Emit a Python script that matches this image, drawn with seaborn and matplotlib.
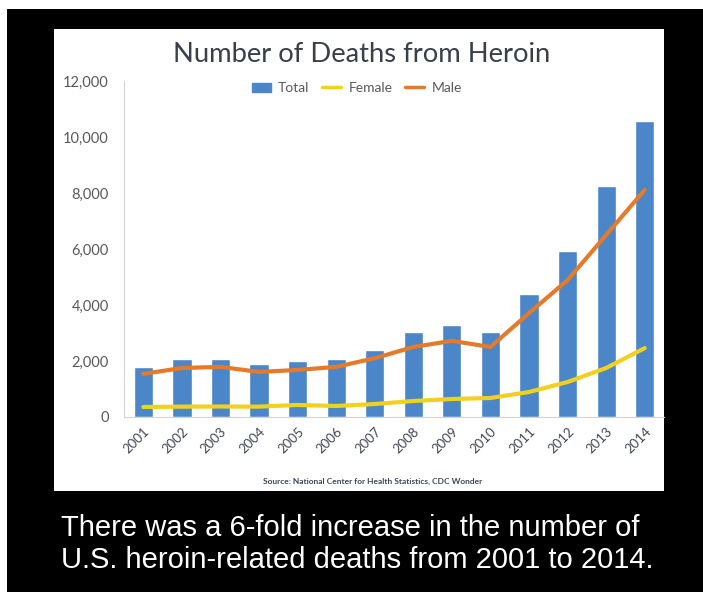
import numpy as np
import matplotlib
matplotlib.use("Agg")
import matplotlib.pyplot as plt
import matplotlib.patches as mpatches
from matplotlib.lines import Line2D
import pandas as pd
import seaborn as sns

# data
years = ["2001", "2002", "2003", "2004", "2005", "2006", "2007",
         "2008", "2009", "2010", "2011", "2012", "2013", "2014"]
total = [1779, 2089, 2080, 1878, 2009, 2088, 2399,
         3041, 3278, 3036, 4397, 5925, 8257, 10574]
female = [357, 370, 375, 370, 430, 393, 464,
          571, 643, 679, 893, 1250, 1750, 2460]
male = [1540, 1750, 1790, 1610, 1680, 1790, 2100,
        2500, 2720, 2500, 3710, 4890, 6500, 8110]
ytick_vals = [0, 2000, 4000, 6000, 8000, 10000, 12000]
ytick_labels = ["0", "2,000", "4,000", "6,000", "8,000", "10,000", "12,000"]

title = "Number of Deaths from Heroin"
source = "Source: National Center for Health Statistics, CDC Wonder"
caption = ["There was a 6-fold increase in the number of",
           "U.S. heroin-related deaths from 2001 to 2014."]

c_blue = "#4A86C8"
c_yellow = "#F2D01E"
c_orange = "#E47A2A"
c_text = "#595959"
c_title = "#3A3F4A"

df = pd.DataFrame({"year": years, "total": total,
                   "female": female, "male": male})
df["pos"] = np.arange(len(df))

sns.set_style("white")
plt.rcParams["font.family"] = ["Lato", "DejaVu Sans"]

W, H = 703, 592
fig = plt.figure(figsize=(W / 100, H / 100), dpi=100, facecolor="white")

# black slide background and white chart panel, kept behind the axes
fig.patches.append(mpatches.Rectangle((7 / W, 0), 1, (H - 9) / H,
                   transform=fig.transFigure, facecolor="black",
                   edgecolor="none", zorder=-2))
fig.patches.append(mpatches.Rectangle((54 / W, (H - 491) / H), 610 / W, 462 / H,
                   transform=fig.transFigure, facecolor="white",
                   edgecolor="none", zorder=-1))

ax = fig.add_axes([124 / W, (H - 417) / H, 540 / W, 336 / H])
ax.patch.set_alpha(0)

sns.barplot(data=df, x="year", y="total", color=c_blue, width=0.5,
            saturation=1, ax=ax, zorder=2)
sns.lineplot(data=df, x="pos", y="female", color=c_yellow, linewidth=3,
             ax=ax, zorder=3, solid_joinstyle="round", solid_capstyle="round")
sns.lineplot(data=df, x="pos", y="male", color=c_orange, linewidth=3,
             ax=ax, zorder=4, solid_joinstyle="round", solid_capstyle="round")

ax.set_xlim(-0.5, len(years) - 0.5)
ax.set_ylim(0, 12000)
ax.set_yticks(ytick_vals)
ax.set_yticklabels(ytick_labels, fontsize=10.5, color=c_text)
ax.set_xticks(df["pos"])
ax.set_xticklabels(years, rotation=45, ha="right", rotation_mode="anchor",
                   fontsize=9.5, color="#404654")
ax.set_xticks(np.arange(-0.5, len(years), 1), minor=True)
ax.tick_params(axis="x", which="major", length=0, pad=6)
ax.tick_params(axis="x", which="minor", length=3, color="#d0d0d0", width=0.8)
ax.tick_params(axis="y", length=0, pad=11)
ax.set_xlabel("")
ax.set_ylabel("")

for s in ["top", "right"]:
    ax.spines[s].set_visible(False)
for s in ["left", "bottom"]:
    ax.spines[s].set_color("#d4d4d4")
    ax.spines[s].set_linewidth(0.8)

handles = [mpatches.Patch(color=c_blue, label="Total"),
           Line2D([], [], color=c_yellow, linewidth=2.5, label="Female"),
           Line2D([], [], color=c_orange, linewidth=2.5, label="Male")]
leg = ax.legend(handles=handles, loc="center", bbox_to_anchor=(0.431, 0.979),
                ncol=3, frameon=False, fontsize=10, handlelength=1.4,
                handleheight=0.6, handletextpad=0.5, columnspacing=0.9)
for t in leg.get_texts():
    t.set_color(c_text)

fig.text(362 / W, (H - 62) / H, title, ha="center", va="baseline",
         fontsize=19.7, color=c_title)
fig.text(373 / W, (H - 481) / H, source, ha="center", va="center",
         fontsize=6, fontweight="bold", color="#404654")

for i, line in enumerate(caption):
    fig.text(61 / W, (H - 536 - 32 * i) / H, line, ha="left", va="baseline",
             fontsize=21, color="white", family=["Liberation Sans", "DejaVu Sans"])

fig.savefig("out.png", dpi=100, facecolor=fig.get_facecolor())
